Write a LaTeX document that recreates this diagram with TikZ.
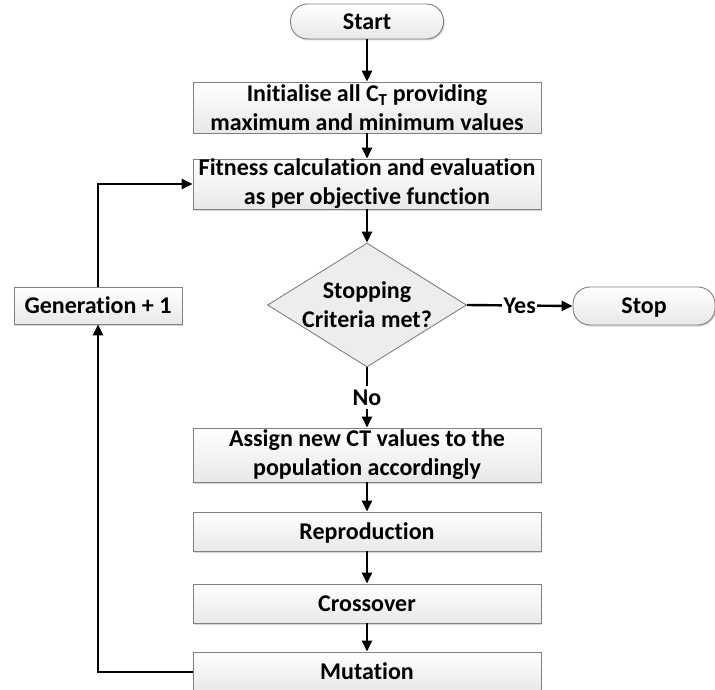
\documentclass[tikz,border=0pt]{standalone}
\usepackage{fontspec}
\setmainfont{Carlito}[RawFeature={-liga;-clig;-dlig;-calt;-rlig}]
\usetikzlibrary{shapes.geometric,arrows.meta,shadows}
\begin{document}
\begin{tikzpicture}[x=1pt,y=-1pt,
  every node/.style={font=\bfseries\fontsize{24}{29}\selectfont},
  boxnode/.style={draw=black!50, line width=0.9pt, top color=white, bottom color=black!9,
    minimum width=348pt, align=center, inner sep=0pt,
    drop shadow={shadow xshift=1.2pt, shadow yshift=-1.5pt, fill=black!30, opacity=0.5}},
  oneline/.style={text height=15.5pt, text depth=0pt},
  pill/.style={boxnode, oneline, rounded corners=17pt},
  decision/.style={diamond, draw=black!50, line width=0.9pt, fill=black!7, inner sep=0pt},
  arr/.style={-{Triangle[length=11pt,width=10pt]}, line width=2.4pt},
  lbl/.style={fill=white, inner sep=1.5pt, oneline}
]
\fill[white] (0,0) rectangle (715,690);
\useasboundingbox (0,0) rectangle (715,690);

\node[pill, minimum width=153pt, minimum height=35pt] (start) at (367,21.5) {Start};
\node[boxnode, minimum height=51pt] (init) at (367,107.5) {Initialise all C\textsubscript{T} providing\\maximum and minimum values};
\node[boxnode, minimum height=50pt] (fit) at (367,184) {Fitness calculation and evaluation\\as per objective function};
\node[decision, minimum width=199pt, minimum height=124pt] (dec) at (367,305) {};
\node[align=center, inner sep=0pt] (dectext) at (dec.center) {Stopping\\Criteria met?};
\node[pill, minimum width=142pt, minimum height=38pt] (stop) at (644,306) {Stop};
\node[boxnode, oneline, minimum width=168pt, minimum height=37pt] (gen) at (98,305.5) {Generation + 1};
\node[boxnode, minimum height=54pt] (assign) at (367,455) {Assign new CT values to the\\population accordingly};
\node[boxnode, oneline, minimum height=39pt] (repro) at (367,531.5) {Reproduction};
\node[boxnode, oneline, minimum height=39pt] (cross) at (367,603.5) {Crossover};
\node[boxnode, oneline, minimum height=40pt] (mut) at (367,672) {Mutation};

\draw[arr] (start) -- (init);
\draw[arr] (init) -- (fit);
\draw[arr] (fit) -- (dec.north);
\draw[arr] (dec.east) -- node[lbl] (yes) {Yes} (stop.west);
\draw[arr] (dec.south) -- node[lbl, inner ysep=4pt] (no) {No} (assign.north);
\draw[arr] (assign) -- (repro);
\draw[arr] (repro) -- (cross);
\draw[arr] (cross) -- (mut);
\draw[arr] (mut.west) -| (gen.south);
\draw[arr] (gen.north) |- (fit.west);
\end{tikzpicture}
\end{document}
